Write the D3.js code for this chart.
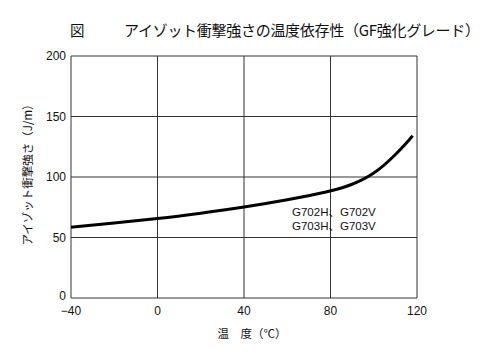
<!DOCTYPE html>
<html>
<head>
<meta charset="utf-8">
<script src="https://cdn.jsdelivr.net/npm/d3@7"></script>
<style>
  body { margin: 0; background: #fff; }
  text { font-family: "Liberation Sans", Arial, sans-serif; fill: #111; }
  .jp { font-family: "Noto Sans CJK JP", sans-serif; }
  .grade { font-family: "Liberation Sans", "Noto Sans CJK JP", sans-serif; }
</style>
</head>
<body>
<div id="chart"></div>
<script>
const temps = [-40, -20, 0, 20, 40, 60, 80, 90, 100, 110, 118];
const impact = [58.5, 62, 65.5, 70, 75, 81, 88, 93.5, 102, 118, 134];
const xTicks = [-40, 0, 40, 80, 120];
const yTicks = [0, 50, 100, 150, 200];
const gradeLines = ["G702H、G702V", "G703H、G703V"];

const width = 500, height = 353;
const margin = { top: 56, right: 83, bottom: 55, left: 71 };

const svg = d3.select("#chart").append("svg")
  .attr("width", width)
  .attr("height", height);

const x = d3.scaleLinear().domain([-40, 120]).range([margin.left, width - margin.right]);
const y = d3.scaleLinear().domain([0, 200]).range([height - margin.bottom, margin.top]);

// grid
svg.append("g")
  .selectAll("line")
  .data(yTicks)
  .join("line")
  .attr("x1", x(-40)).attr("x2", x(120))
  .attr("y1", d => y(d)).attr("y2", d => y(d))
  .attr("stroke", "#333").attr("stroke-width", 1);

svg.append("g")
  .selectAll("line")
  .data(xTicks)
  .join("line")
  .attr("x1", d => x(d)).attr("x2", d => x(d))
  .attr("y1", y(0)).attr("y2", y(200))
  .attr("stroke", "#333").attr("stroke-width", 1);

// tick labels
svg.append("g")
  .selectAll("text")
  .data(yTicks)
  .join("text")
  .attr("x", margin.left - 5)
  .attr("y", d => y(d) - (d === 0 ? 2 : 0))
  .attr("dy", "0.35em")
  .attr("text-anchor", "end")
  .style("font-size", "12px")
  .text(d => d);

svg.append("g")
  .selectAll("text")
  .data(xTicks)
  .join("text")
  .attr("x", d => x(d))
  .attr("y", y(0) + 17)
  .attr("text-anchor", "middle")
  .style("font-size", "12px")
  .text(d => d < 0 ? "\u2212" + Math.abs(d) : d);

// curve
svg.append("path")
  .datum(temps.map((t, i) => [t, impact[i]]))
  .attr("fill", "none")
  .attr("stroke", "#000")
  .attr("stroke-width", 3)
  .attr("d", d3.line()
    .curve(d3.curveBasis)
    .x(d => x(d[0]))
    .y(d => y(d[1])));

// grade labels
svg.append("g")
  .selectAll("text")
  .data(gradeLines)
  .join("text")
  .attr("class", "grade")
  .attr("x", 292)
  .attr("y", (d, i) => 216 + i * 14)
  .style("font-size", "11.5px")
  .text(d => d);

// titles
svg.append("text")
  .attr("class", "jp")
  .attr("x", 70).attr("y", 36)
  .style("font-size", "14.5px")
  .text("図");

svg.append("text")
  .attr("class", "jp")
  .attr("x", 124).attr("y", 36)
  .attr("textLength", 356)
  .style("font-size", "15px")
  .text("アイゾット衝撃強さの温度依存性（GF強化グレード）");

svg.append("text")
  .attr("class", "jp")
  .attr("x", 252).attr("y", 338)
  .attr("text-anchor", "middle")
  .style("font-size", "11.5px")
  .text("温　度（℃）");

svg.append("text")
  .attr("class", "jp")
  .attr("transform", "translate(32,172) rotate(-90)")
  .attr("text-anchor", "middle")
  .style("font-size", "11.5px")
  .text("アイゾット衝撃強さ（J/m）");
</script>
</body>
</html>
